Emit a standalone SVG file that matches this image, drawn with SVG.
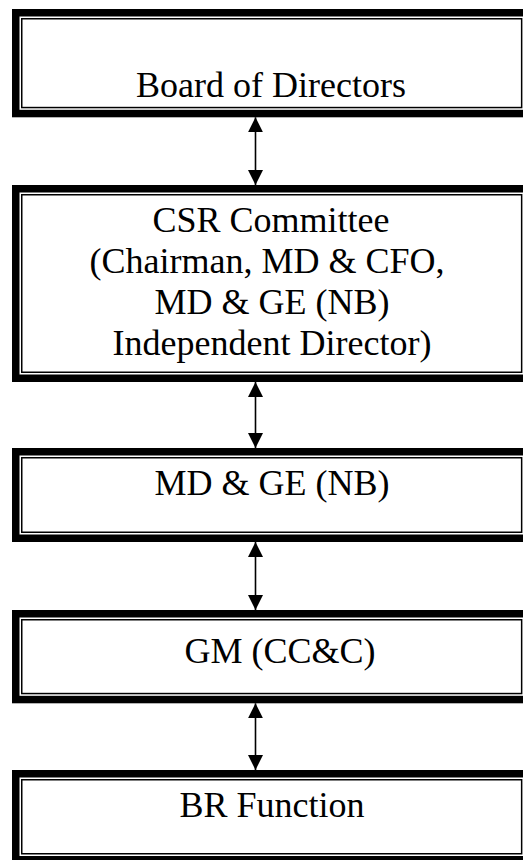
<svg xmlns="http://www.w3.org/2000/svg" width="523" height="860" viewBox="0 0 523 860">
<style>
.outer{fill:#000}
.gap{fill:#fff}
.inner{fill:#fff;stroke:#000;stroke-width:1.5}
.lbl{font-size:36px;fill:#000;text-anchor:middle}
.conn{stroke:#000;stroke-width:1.6;fill:none}
</style>
<defs>
<marker id="ah" viewBox="0 0 15 15" refX="15" refY="7.5" markerWidth="15" markerHeight="15" markerUnits="userSpaceOnUse" orient="auto-start-reverse">
<path d="M0,0 L15,7.5 L0,15 Z" fill="#000"/>
</marker>
</defs>
<rect width="523" height="860" fill="#fff"/>
<g font-family="Liberation Serif, Times New Roman, DejaVu Serif, serif">
<g id="board">
<rect class="outer" x="12" y="9" width="530" height="108.3"/>
<rect class="gap" x="19.5" y="16.5" width="520" height="93.3"/>
<rect class="inner" x="21.75" y="18.75" width="499.9" height="88.8"/>
<text class="lbl" x="271" y="97">Board of Directors</text>
</g>
<g id="csr">
<rect class="outer" x="12" y="185" width="530" height="197"/>
<rect class="gap" x="19.5" y="192.5" width="520" height="182"/>
<rect class="inner" x="21.75" y="194.75" width="499.9" height="177.5"/>
<text class="lbl" x="271" y="232">CSR Committee</text>
<text class="lbl" x="267" y="273">(Chairman, MD &amp; CFO,</text>
<text class="lbl" x="272" y="314">MD &amp; GE (NB)</text>
<text class="lbl" x="272" y="355">Independent Director)</text>
</g>
<g id="mdge">
<rect class="outer" x="12" y="448" width="530" height="94"/>
<rect class="gap" x="19.5" y="455.5" width="520" height="79"/>
<rect class="inner" x="21.75" y="457.75" width="499.9" height="74.5"/>
<text class="lbl" x="272" y="495">MD &amp; GE (NB)</text>
</g>
<g id="gm">
<rect class="outer" x="12" y="610" width="530" height="93.3"/>
<rect class="gap" x="19.5" y="617.5" width="520" height="78.3"/>
<rect class="inner" x="21.75" y="619.75" width="499.9" height="73.8"/>
<text class="lbl" x="280" y="663">GM (CC&amp;C)</text>
</g>
<g id="br">
<rect class="outer" x="12" y="770" width="530" height="100"/>
<rect class="gap" x="19.5" y="777.5" width="520" height="78.5"/>
<rect class="inner" x="21.75" y="779.75" width="499.9" height="74"/>
<text class="lbl" x="272" y="817">BR Function</text>
</g>
</g>
<g id="connectors">
<line class="conn" x1="255.5" y1="117.3" x2="255.5" y2="185" marker-start="url(#ah)" marker-end="url(#ah)"/>
<line class="conn" x1="255.5" y1="382" x2="255.5" y2="448" marker-start="url(#ah)" marker-end="url(#ah)"/>
<line class="conn" x1="255.5" y1="542" x2="255.5" y2="610" marker-start="url(#ah)" marker-end="url(#ah)"/>
<line class="conn" x1="255.5" y1="703.3" x2="255.5" y2="770" marker-start="url(#ah)" marker-end="url(#ah)"/>
</g>
</svg>
